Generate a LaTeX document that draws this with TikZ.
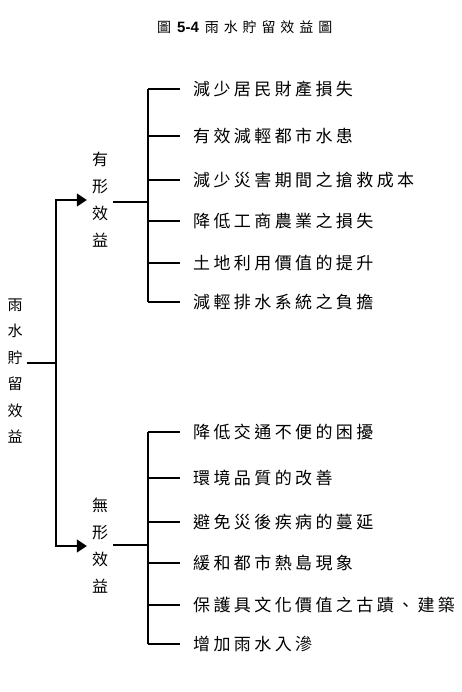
\documentclass[tikz,border=0pt]{standalone}
\usepackage{fontspec}
\setmainfont{Liberation Sans}
\newfontfamily\cjk{Noto Sans CJK TC}
\newfontfamily\cjkitem{Noto Sans CJK TC}[LetterSpace=20]
\newfontfamily\cjktitle{Noto Sans CJK TC}[LetterSpace=35]
\newfontfamily\latinbold{Liberation Sans Bold}
\usetikzlibrary{arrows.meta}
\begin{document}
\begin{tikzpicture}[x=1pt,y=-1pt,
  line/.style={line width=1.1pt, draw=black},
  arrowline/.style={line width=1.6pt, draw=black, -{Triangle[length=10pt,width=13pt]}},
  itemtext/.style={anchor=west, inner sep=0pt, font=\cjkitem\fontsize{17}{17}\selectfont},
  vlabel/.style={align=center, inner ysep=0pt, inner xsep=5pt, font=\cjk\fontsize{16}{27}\selectfont},
  rootlabel/.style={align=center, inner ysep=0pt, inner xsep=4pt, font=\cjk\fontsize{15}{26.4}\selectfont},
  titletext/.style={inner sep=0pt, anchor=west}
]
\useasboundingbox (0,0) rectangle (462,692);

% title
\node[titletext] (title) at (157,27) {{\cjktitle\fontsize{14}{14}\selectfont 圖}\hspace{6pt}{\latinbold\fontsize{15}{15}\selectfont 5-4}\hspace{6pt}{\cjktitle\fontsize{14}{14}\selectfont 雨水貯留效益圖}};

% root
\node[rootlabel] (root) at (15,371) {雨\\水\\貯\\留\\效\\益};
\coordinate (j) at (56,363);

% branch labels
\node[vlabel] (tang) at (100,200) {有\\形\\效\\益};
\node[vlabel] (intang) at (100,546) {無\\形\\效\\益};

% spines
\coordinate (su) at (148,202);
\coordinate (sl) at (148,545);

% tangible items
\node[itemtext] (u1) at (193,89)  {減少居民財產損失};
\node[itemtext] (u2) at (193,136) {有效減輕都市水患};
\node[itemtext] (u3) at (193,180) {減少災害期間之搶救成本};
\node[itemtext] (u4) at (193,221) {降低工商農業之損失};
\node[itemtext] (u5) at (193,263) {土地利用價值的提升};
\node[itemtext] (u6) at (193,302) {減輕排水系統之負擔};

% intangible items
\node[itemtext] (l1) at (193,432) {降低交通不便的困擾};
\node[itemtext] (l2) at (193,478) {環境品質的改善};
\node[itemtext] (l3) at (193,522) {避免災後疾病的蔓延};
\node[itemtext] (l4) at (193,563) {緩和都市熱島現象};
\node[itemtext] (l5) at (193,605) {保護具文化價值之古蹟、建築};
\node[itemtext] (l6) at (193,644) {增加雨水入滲};

% root connector
\draw[line] (j -| root.east) -- (j);
\draw[arrowline] (j) |- (tang.west);
\draw[arrowline] (j) |- (intang.west);

% branch connectors
\draw[line] (tang.east |- su) -- (su);
\draw[line] (intang.east |- sl) -- (sl);
\draw[line] (su |- u1.west) -- (su |- u6.west);
\draw[line] (sl |- l1.west) -- (sl |- l6.west);
\foreach \n in {u1,u2,u3,u4,u5,u6}{
  \draw[line] (su |- \n.west) -- ([xshift=-13pt]\n.west);
}
\foreach \n in {l1,l2,l3,l4,l5,l6}{
  \draw[line] (sl |- \n.west) -- ([xshift=-13pt]\n.west);
}
\end{tikzpicture}
\end{document}
